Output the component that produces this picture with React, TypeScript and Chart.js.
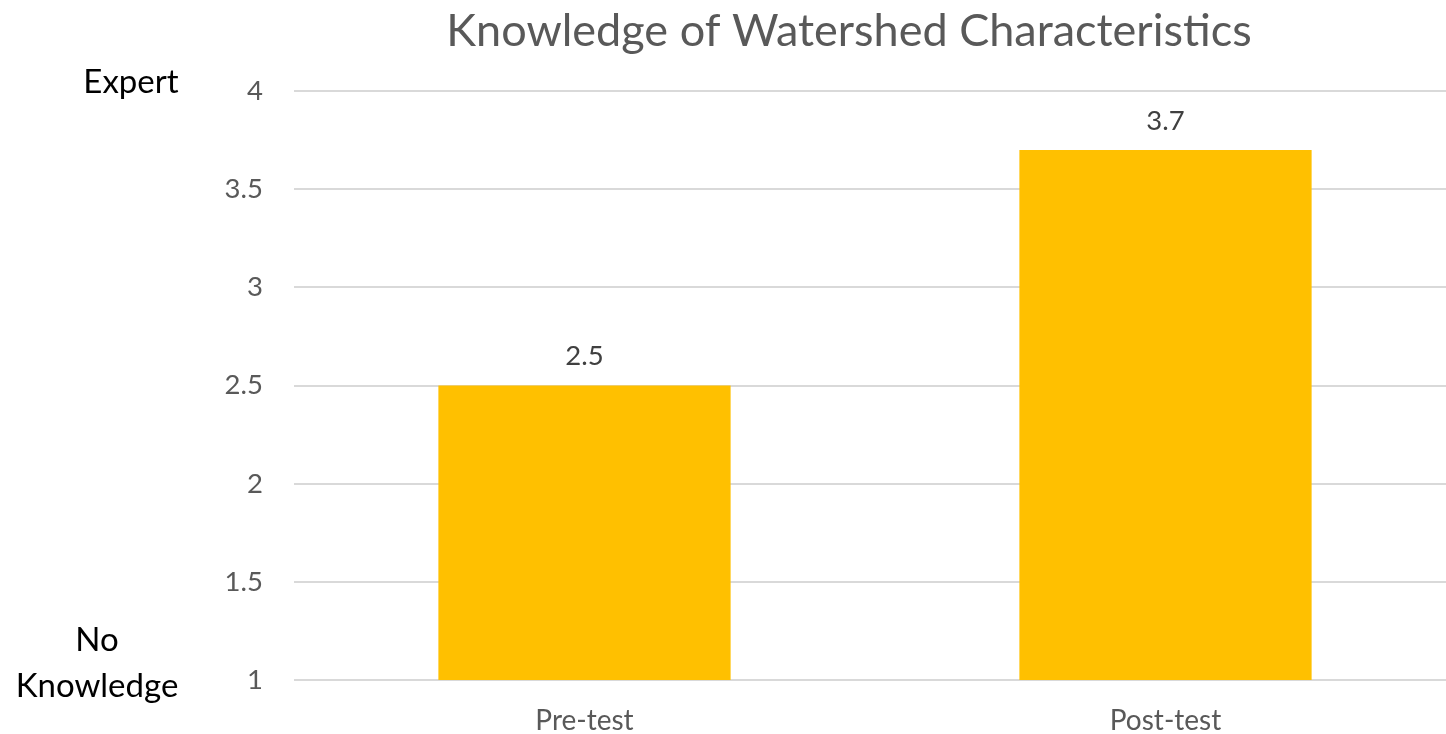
import React, { useEffect, useRef } from "react";
import { Chart, registerables } from "chart.js";

Chart.register(...registerables);

const categories = ["Pre-test", "Post-test"];
const values = [2.5, 3.7];
const titleText = "Knowledge of Watershed Characteristics";
const topLabel = ["Expert"];
const bottomLabel = ["No", "Knowledge"];

const FONT = "Lato, 'Open Sans', sans-serif";

const annotations = {
  id: "annotations",
  afterDraw(chart: any) {
    const ctx = chart.ctx;
    ctx.save();
    // title
    ctx.fillStyle = "#595959";
    ctx.font = `45px ${FONT}`;
    ctx.textAlign = "center";
    ctx.textBaseline = "middle";
    ctx.fillText(titleText, 849, 31);
    // side labels
    ctx.fillStyle = "#000000";
    ctx.font = `33px ${FONT}`;
    const yScale = chart.scales.y;
    ctx.fillText(topLabel[0], 131, yScale.getPixelForValue(4) - 9);
    ctx.fillText(bottomLabel[0], 97, yScale.getPixelForValue(1) - 40);
    ctx.fillText(bottomLabel[1], 97, yScale.getPixelForValue(1) + 6);
    // data labels
    ctx.fillStyle = "#404040";
    ctx.font = `27.5px ${FONT}`;
    const meta = chart.getDatasetMeta(0);
    meta.data.forEach((bar: any, i: number) => {
      ctx.fillText(String(values[i]), bar.x, bar.y - 29);
    });
    ctx.restore();
  },
};

export default function App() {
  const ref = useRef<HTMLCanvasElement>(null);
  useEffect(() => {
    const canvas = ref.current!;
    const chart = new Chart(canvas, {
      type: "bar",
      data: {
        labels: categories,
        datasets: [
          {
            data: values,
            backgroundColor: "#FFC000",
            barPercentage: 0.503,
            categoryPercentage: 1,
          },
        ],
      },
      options: {
        responsive: false,
        animation: false,
        layout: { padding: { top: 91, left: 0, right: 0, bottom: 0 } },
        plugins: {
          legend: { display: false },
          title: { display: false },
          tooltip: { enabled: false },
        },
        scales: {
          x: {
            grid: { display: false },
            border: { display: false },
            ticks: {
              color: "#595959",
              font: { family: FONT, size: 28 },
              padding: 16,
            },
            afterFit(scale: any) {
              scale.height = 54;
            },
          },
          y: {
            min: 1,
            max: 4,
            ticks: {
              stepSize: 0.5,
              color: "#595959",
              font: { family: FONT, size: 27.5 },
              padding: 31,
              callback: (v: any) => String(Number(v)),
            },
            grid: { color: "#d9d9d9", lineWidth: 2, drawTicks: false },
            border: { display: false },
            afterFit(scale: any) {
              scale.width = 294;
            },
          },
        },
      },
      plugins: [annotations],
    });
    return () => chart.destroy();
  }, []);
  return (
    <div
      style={{
        position: "fixed",
        left: 0,
        top: 0,
        width: 1446,
        height: 734,
        overflow: "hidden",
        background: "#fff",
      }}
    >
      <canvas ref={ref} width={1456} height={734} style={{ display: "block" }} />
    </div>
  );
}
